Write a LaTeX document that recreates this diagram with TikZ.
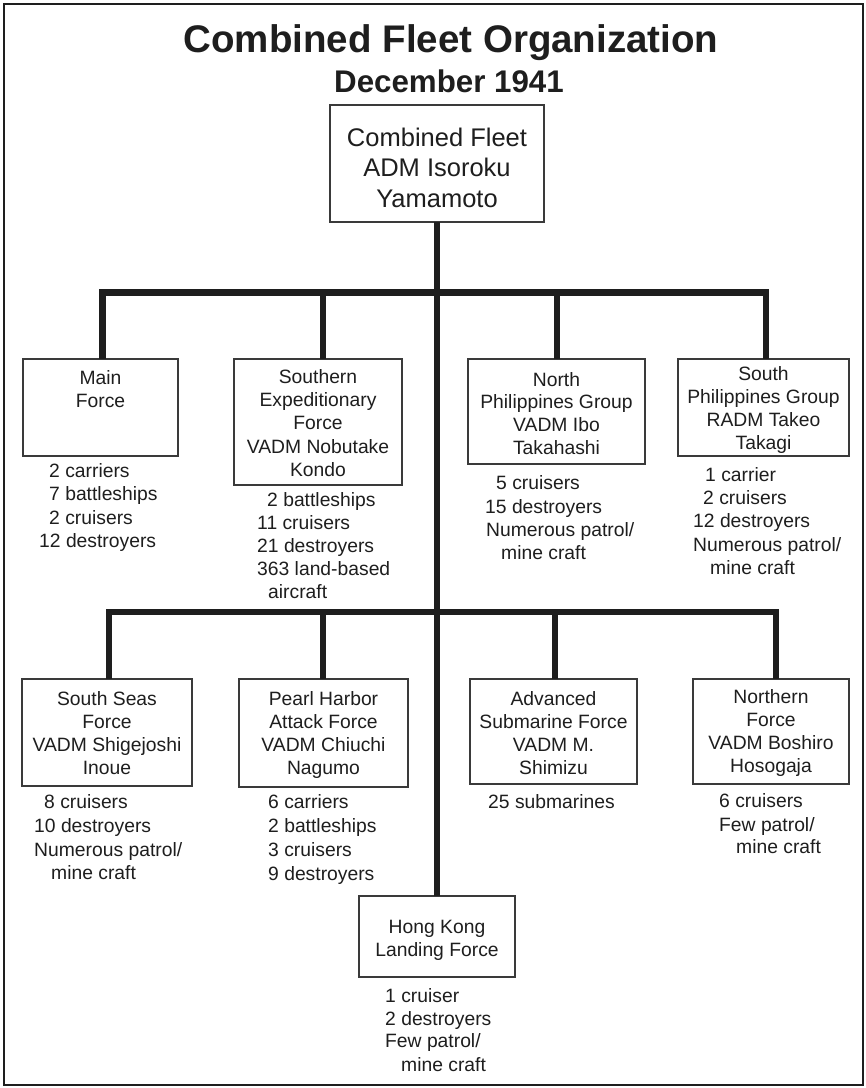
\documentclass[tikz,border=0pt]{standalone}
\usepackage{fontspec}
\setmainfont{Liberation Sans}
\usetikzlibrary{calc}
\definecolor{ink}{HTML}{1E1E1E}
\definecolor{boxline}{HTML}{3A3A3A}
\begin{document}
\begin{tikzpicture}[x=1pt,y=-1pt,
  orgbox/.style={draw=boxline, line width=1.3pt, rectangle, inner sep=0pt, outer sep=0pt, anchor=north west},
  conn/.style={draw=ink, line width=6.8pt, line join=miter, line cap=butt},
  bt/.style={inner sep=0pt, anchor=base, text=ink, font=\fontsize{19.3}{23}\selectfont},
  lt/.style={inner sep=0pt, anchor=base west, text=ink, font=\fontsize{19.3}{23}\selectfont},
]
\useasboundingbox (0,0) rectangle (866,1088);
\fill[white] (0,0) rectangle (866,1088);
\draw[ink, line width=2.5pt] (4,4) rectangle (863,1085);

% titles
\node[anchor=base, inner sep=0pt, text=ink, font=\bfseries\fontsize{38.5}{40}\selectfont] (title) at (451,52) {Combined Fleet Organization};
\node[anchor=base, inner sep=0pt, text=ink, font=\bfseries\fontsize{31.3}{33}\selectfont] (date) at (449,92) {December 1941};

% boxes
\node[orgbox, minimum width=214pt, minimum height=117pt] (top) at (330,105) {};
\node[orgbox, minimum width=155pt, minimum height=97pt] (main) at (23,359) {};
\node[orgbox, minimum width=168pt, minimum height=126pt] (sef) at (234,359) {};
\node[orgbox, minimum width=177pt, minimum height=105pt] (npg) at (468,359) {};
\node[orgbox, minimum width=171pt, minimum height=97pt] (spg) at (678,359) {};
\node[orgbox, minimum width=170pt, minimum height=107pt] (ssf) at (22,679) {};
\node[orgbox, minimum width=169pt, minimum height=108pt] (pha) at (239,679) {};
\node[orgbox, minimum width=167pt, minimum height=105pt] (asf) at (470,679) {};
\node[orgbox, minimum width=156pt, minimum height=105pt] (nof) at (693,679) {};
\node[orgbox, minimum width=156pt, minimum height=81pt] (hk) at (359,896) {};

% box texts
\foreach \t [count=\i from 0] in {Combined Fleet,ADM Isoroku,Yamamoto}
  \node[bt, font=\fontsize{25.5}{30}\selectfont] at (437,{146+\i*30.7}) {\t};
\foreach \t [count=\i from 0] in {Main,Force}
  \node[bt] at (100.5,{384+\i*23.3}) {\t};
\foreach \t [count=\i from 0] in {Southern,Expeditionary,Force,VADM Nobutake,Kondo}
  \node[bt] at (318,{383+\i*23.4}) {\t};
\foreach \t [count=\i from 0] in {North,Philippines Group,VADM Ibo,Takahashi}
  \node[bt] at (556.5,{386+\i*22.8}) {\t};
\foreach \t [count=\i from 0] in {South,Philippines Group,RADM Takeo,Takagi}
  \node[bt] at (763.5,{380+\i*23}) {\t};
\foreach \t [count=\i from 0] in {South Seas,Force,VADM Shigejoshi,Inoue}
  \node[bt] at (107,{705+\i*23.3}) {\t};
\foreach \t [count=\i from 0] in {Pearl Harbor,Attack Force,VADM Chiuchi,Nagumo}
  \node[bt] at (323.5,{705+\i*23.3}) {\t};
\foreach \t [count=\i from 0] in {Advanced,Submarine Force,VADM M.,Shimizu}
  \node[bt] at (553.5,{705+\i*23.3}) {\t};
\foreach \t [count=\i from 0] in {Northern,Force,VADM Boshiro,Hosogaja}
  \node[bt] at (771,{703+\i*23.3}) {\t};
\foreach \t [count=\i from 0] in {Hong Kong,Landing Force}
  \node[bt] at (437,{933+\i*23}) {\t};

% lists row 1
\node[lt] at (49,477) {2 carriers};
\node[lt] at (49,500.5) {7 battleships};
\node[lt] at (49,524) {2 cruisers};
\node[lt] at (39,547.5) {12 destroyers};

\node[lt] at (267,506.5) {2 battleships};
\node[lt] at (257,529.5) {11 cruisers};
\node[lt] at (257,552.5) {21 destroyers};
\node[lt] at (257,575.5) {363 land-based};
\node[lt] at (268,598.5) {aircraft};

\node[lt] at (496,489.5) {5 cruisers};
\node[lt] at (485,513) {15 destroyers};
\node[lt] at (486,536.5) {Numerous patrol/};
\node[lt] at (501,559.5) {mine craft};

\node[lt] at (705,481) {1 carrier};
\node[lt] at (703,504) {2 cruisers};
\node[lt] at (693,527.5) {12 destroyers};
\node[lt] at (693,551.5) {Numerous patrol/};
\node[lt] at (710,574.5) {mine craft};

% lists row 2
\node[lt] at (44,808.5) {8 cruisers};
\node[lt] at (34,832) {10 destroyers};
\node[lt] at (34,856) {Numerous patrol/};
\node[lt] at (51,879) {mine craft};

\node[lt] at (268,808.5) {6 carriers};
\node[lt] at (268,832) {2 battleships};
\node[lt] at (268,856) {3 cruisers};
\node[lt] at (268,880) {9 destroyers};

\node[lt] at (488,808.5) {25 submarines};

\node[lt] at (719,807) {6 cruisers};
\node[lt] at (719,831) {Few patrol/};
\node[lt] at (736,853.5) {mine craft};

\node[lt] at (385,1002) {1 cruiser};
\node[lt] at (385,1025) {2 destroyers};
\node[lt] at (385,1047.5) {Few patrol/};
\node[lt] at (401,1071.5) {mine craft};

% connectors
\coordinate (b1) at (437,292.5);
\coordinate (b2) at (437,612);
\coordinate (d1) at ([xshift=2pt]main.north);
\coordinate (d2) at ([xshift=5pt]sef.north);
\coordinate (d3) at ([xshift=0.5pt]npg.north);
\coordinate (d4) at ([xshift=2.5pt]spg.north);
\coordinate (d5) at ([xshift=2pt]ssf.north);
\coordinate (d6) at ([xshift=-0.5pt]pha.north);
\coordinate (d7) at ([xshift=1.5pt]asf.north);
\coordinate (d8) at ([xshift=5pt]nof.north);

\draw[conn] (top.south) -- (hk.north);
\draw[conn] (d1) -- (d1 |- b1) -- (d4 |- b1) -- (d4);
\draw[conn] (d2) -- (d2 |- b1);
\draw[conn] (d3) -- (d3 |- b1);
\draw[conn] (d5) -- (d5 |- b2) -- (d8 |- b2) -- (d8);
\draw[conn] (d6) -- (d6 |- b2);
\draw[conn] (d7) -- (d7 |- b2);
\end{tikzpicture}
\end{document}
